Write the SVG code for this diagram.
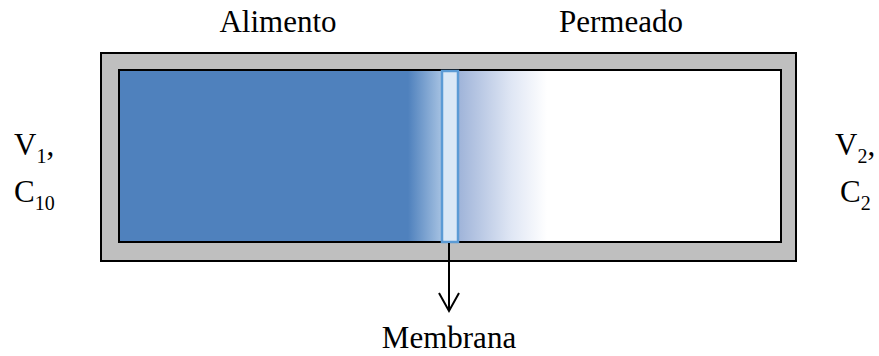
<svg xmlns="http://www.w3.org/2000/svg" width="879" height="356" viewBox="0 0 879 356">
<style>
.t { font-family: 'Liberation Serif', 'DejaVu Serif', serif; font-size: 31px; fill: #000; }
.sub { font-size: 20px; }
.frame { stroke: #000; stroke-width: 2; }
</style>
<defs>
<linearGradient id="gl" x1="0" y1="0" x2="1" y2="0">
<stop offset="0" stop-color="#4f81bd"/>
<stop offset="1" stop-color="#a6c2e2"/>
</linearGradient>
<linearGradient id="gr" x1="0" y1="0" x2="1" y2="0">
<stop offset="0" stop-color="#9db2d8"/>
<stop offset="0.6" stop-color="#dfe6f4"/>
<stop offset="1" stop-color="#ffffff"/>
</linearGradient>
</defs>
<g id="vessel">
<rect class="frame" x="101" y="53" width="695" height="208" fill="#bfbfbf"/>
<rect x="119" y="70" width="662" height="172" fill="#ffffff"/>
<rect x="119" y="70" width="290" height="172" fill="#4f81bd"/>
<rect x="408" y="70" width="34" height="172" fill="url(#gl)"/>
<rect x="457" y="70" width="90" height="172" fill="url(#gr)"/>
<rect class="frame" x="119" y="70" width="662" height="172" fill="none"/>
</g>
<g id="membrane">
<rect x="442" y="71" width="16" height="171" fill="#dae8f6" stroke="#5b9bd5" stroke-width="2.5"/>
</g>
<g id="connectors">
<line x1="449" y1="243" x2="449" y2="310" stroke="#000" stroke-width="2"/>
<polyline points="439,293 449,311 459,293" fill="none" stroke="#000" stroke-width="2"/>
</g>
<g id="label-alimento"><text class="t" font-family="Liberation Serif, serif" x="278" y="32" text-anchor="middle">Alimento</text></g>
<g id="label-permeado"><text class="t" font-family="Liberation Serif, serif" x="621" y="32" text-anchor="middle">Permeado</text></g>
<g id="label-membrana"><text class="t" font-family="Liberation Serif, serif" x="449" y="348" text-anchor="middle">Membrana</text></g>
<g id="label-left">
<text class="t" x="14" y="155">V<tspan class="sub" dy="8">1</tspan><tspan dy="-8">,</tspan></text>
<text class="t" x="14" y="202">C<tspan class="sub" dy="8">10</tspan></text>
</g>
<g id="label-right">
<text class="t" x="835" y="155">V<tspan class="sub" dy="8">2</tspan><tspan dy="-8">,</tspan></text>
<text class="t" x="840" y="202">C<tspan class="sub" dy="8">2</tspan></text>
</g>
</svg>
